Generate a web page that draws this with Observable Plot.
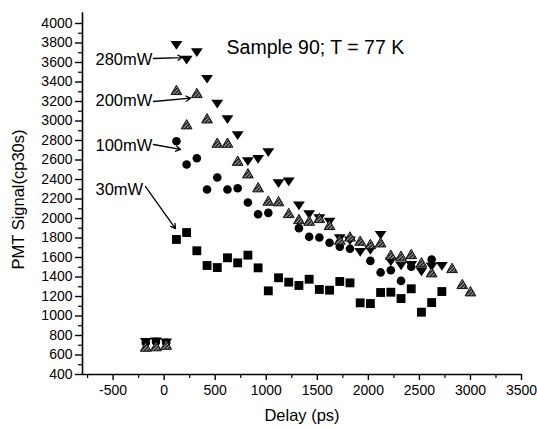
<!DOCTYPE html>
<html><head><meta charset="utf-8">
<script src="https://cdn.jsdelivr.net/npm/d3@7"></script>
<script src="https://cdn.jsdelivr.net/npm/@observablehq/plot@0.6"></script>
<style>body{margin:0;background:#fff;font-family:Arial,"Liberation Sans",sans-serif;}</style>
</head><body><div id="chart"></div><script>
// Delays (ps)
const delays = [120,220,320,420,520,620,720,820,920,1020,1120,1220,1320,1420,1520,1620,1720,1820,1920,2020,2120,2220,2320,2420,2520,2620,2720];

// 30 mW (squares)
const p30 = [1785,1856,1669,1518,1497,1597,1545,1624,1494,1258,1392,1347,1313,1377,1272,1265,1354,1340,1135,1128,1241,1244,1179,1279,1039,1138,1251];

// 100 mW (circles)
const d100 = [-180,-80,20,120,220,320,420,520,620,720,820,920,1020,1320,1420,1520,1620,1720,1820,2020,2120,2220,2320,2420,2620];
const p100 = [725,735,725,2793,2554,2618,2297,2421,2297,2311,2164,2044,2058,1901,1812,1805,1751,1710,1689,1565,1447,1470,1360,1505,1580];

// 200 mW (hatched up-triangles)
const d200 = [-180,-80,20,120,220,320,420,520,620,720,820,920,1020,1120,1220,1320,1420,1520,1620,1720,1820,1920,2020,2120,2220,2320,2420,2520,2620,2820,2920,3000];
const p200 = [670,675,690,3303,2951,3272,3012,2762,2762,2577,2448,2305,2168,2162,2041,1979,1962,1990,1918,1767,1800,1757,1723,1740,1613,1603,1620,1535,1433,1477,1313,1238];

// 280 mW (down-triangles)
const d280 = [-180,-80,20,120,220,320,420,520,620,720,820,920,1020,1120,1220,1320,1420,1520,1620,1720,1820,1920,2020,2120,2220,2320,2420,2520,2620,2720];
const p280 = [745,750,740,3790,3640,3716,3443,3187,3029,2865,2598,2622,2690,2372,2390,2144,2054,2013,1979,1808,1785,1668,1689,1843,1569,1528,1535,1467,1518,1525];

// Annotations
const powerLabels = ["280mW","200mW","100mW","30mW"];
const labelX = [-673,-673,-673,-673];
const labelY = [3631,3210,2749,2297];
const arrowX1 = [-105,-105,-105,-183];
const arrowY1 = [3641,3200,2759,2328];
const arrowX2 = [179,258,160,111];
const arrowY2 = [3651,3234,2708,1897];
const titleText = "Sample 90; T = 77 K";
const titleX = 611, titleY = 3754;
const yLabelText = "PMT Signal(cp30s)";
const yLabelX = -1427, yLabelY = 2195;
const xLabelText = "Delay (ps)";

const xTicks = [-500,0,500,1000,1500,2000,2500,3000,3500];
const xMinor = [-750,-250,250,750,1250,1750,2250,2750,3250];
const yTicks = d3.range(400, 4001, 200);
const yMinor = d3.range(500, 4000, 200);

const mk = (xs, ys) => xs.map((x, i) => ({x, y: ys[i]}));
const s30 = mk(delays, p30);
const s100 = mk(d100, p100);
const s200 = mk(d200, p200);
const s280 = mk(d280, p280);
const labels = powerLabels.map((t, i) => ({t, x: labelX[i], y: labelY[i], x1: arrowX1[i], y1: arrowY1[i], x2: arrowX2[i], y2: arrowY2[i]}));

const downTriangle = {
  draw(ctx, size) {
    const y = Math.sqrt(size / (Math.sqrt(3) * 3));
    ctx.moveTo(0, 2 * y * 0.85);
    ctx.lineTo(Math.sqrt(3) * y, -y * 0.85);
    ctx.lineTo(-Math.sqrt(3) * y, -y * 0.85);
    ctx.closePath();
  }
};

const font = "Arial, 'Liberation Sans', sans-serif";

const chart = Plot.plot({
  width: 537,
  height: 428,
  marginLeft: 82,
  marginRight: 16,
  marginTop: 23,
  marginBottom: 54,
  style: {fontFamily: font, color: "#000", background: "#fff", overflow: "visible"},
  x: {domain: [-800, 3500]},
  y: {domain: [400, 4000]},
  marks: [
    Plot.ruleX([-800], {y1: 400, y2: 4110, stroke: "#000", strokeWidth: 1.6}),
    Plot.ruleY([400], {x1: -800, x2: 3500, stroke: "#000", strokeWidth: 1.6}),
    Plot.axisY({ticks: yTicks, tickSize: 7, tickPadding: 3, tickFormat: d => String(d), fontSize: 14, strokeWidth: 1.4, label: null}),
    Plot.axisY({ticks: yMinor, tickSize: 4, text: null, strokeWidth: 1.2, label: null}),
    Plot.axisX({ticks: xTicks, tickSize: 6, tickPadding: 5, tickFormat: d => String(d), fontSize: 14, strokeWidth: 1.4, label: null}),
    Plot.axisX({ticks: xMinor, tickSize: 4, text: null, strokeWidth: 1.2, label: null}),
    Plot.dot(s30, {x: "x", y: "y", symbol: "square", r: 5, fill: "#000", stroke: "none"}),
    Plot.dot(s100, {x: "x", y: "y", symbol: "circle", r: 4.3, fill: "#000", stroke: "none"}),
    Plot.dot(s280, {x: "x", y: "y", symbol: downTriangle, r: 4.4, fill: "#000", stroke: "none"}),
    Plot.dot(s200, {x: "x", y: "y", symbol: "triangle", r: 4, fill: "url(#hatch)", stroke: "#111", strokeWidth: 1}),
    Plot.text(labels, {x: "x", y: "y", text: "t", textAnchor: "start", fontSize: 16.5, fill: "#000"}),
    Plot.arrow(labels, {x1: "x1", y1: "y1", x2: "x2", y2: "y2", stroke: "#000", strokeWidth: 1.3, headLength: 6}),
    Plot.text([titleText], {x: titleX, y: titleY, text: d => d, textAnchor: "start", fontSize: 19.5, fill: "#000"}),
    Plot.text([yLabelText], {x: yLabelX, y: yLabelY, rotate: -90, text: d => d, fontSize: 16.5, fill: "#000", clip: false}),
    Plot.text([xLabelText], {frameAnchor: "bottom", dy: 46, text: d => d, fontSize: 16.5, fill: "#000"})
  ]
});

const ns = "http://www.w3.org/2000/svg";
const defs = document.createElementNS(ns, "defs");
const pat = document.createElementNS(ns, "pattern");
pat.setAttribute("id", "hatch");
pat.setAttribute("patternUnits", "userSpaceOnUse");
pat.setAttribute("width", "2.5");
pat.setAttribute("height", "2.5");
pat.setAttribute("patternTransform", "rotate(45)");
const bg = document.createElementNS(ns, "rect");
bg.setAttribute("width", "2.5"); bg.setAttribute("height", "2.5"); bg.setAttribute("fill", "#aaa");
const ln = document.createElementNS(ns, "rect");
ln.setAttribute("width", "1.4"); ln.setAttribute("height", "2.5"); ln.setAttribute("fill", "#111");
pat.appendChild(bg); pat.appendChild(ln); defs.appendChild(pat);
chart.insertBefore(defs, chart.firstChild);

document.getElementById("chart").appendChild(chart);
</script></body></html>
